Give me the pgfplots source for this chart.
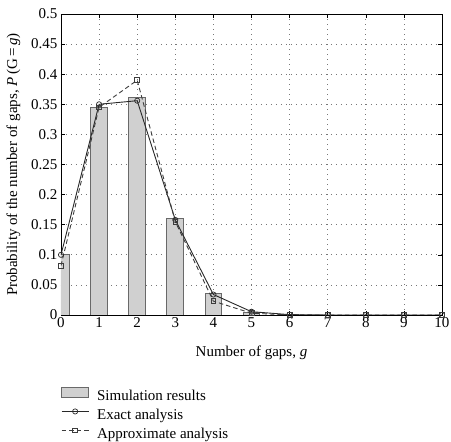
\documentclass[border=0pt]{standalone}
\usepackage{fontspec}
\setmainfont{Liberation Serif}
\usepackage{pgfplots}
\pgfplotsset{compat=1.18}
\usepackage{pgfplotstable}

\definecolor{barfill}{RGB}{208,208,208}
\definecolor{baredge}{RGB}{105,105,105}
\definecolor{linedark}{RGB}{40,40,40}
\definecolor{linedash}{RGB}{60,60,60}
\definecolor{gridgray}{RGB}{120,120,120}

\newcommand{\chartfont}{\fontsize{15}{17}\selectfont}

% legend symbols
\pgfplotsset{
  barlegend/.style={legend image code/.code={%
    \draw[fill=barfill, draw=baredge, line width=0.8pt] (0pt,-1pt) rectangle (27pt,9pt);}},
  linelegend/.style={legend image code/.code={%
    \draw[mark repeat=2, mark phase=2, ##1] plot coordinates {(0pt,4pt) (13.5pt,4pt) (27pt,4pt)};}},
}

% g, simulated probability
\pgfplotstableread{
g  p
0  0.100
1  0.344
2  0.361
3  0.160
4  0.035
5  0.004
6  0.0005
7  0
8  0
9  0
10 0
}\simdata

% g, exact analysis
\pgfplotstableread{
g  p
0  0.100
1  0.350
2  0.356
3  0.158
4  0.034
5  0.0055
6  0.0006
7  0
8  0
9  0
10 0
}\exactdata

% g, approximate analysis
\pgfplotstableread{
g  p
0  0.082
1  0.345
2  0.390
3  0.155
4  0.023
5  0.003
6  0.0002
7  0
8  0
9  0
10 0
}\approxdata

\begin{document}
\begin{tikzpicture}
% page frame around the axis box (0,0)--(381pt,301pt)
\useasboundingbox (-61pt,-127pt) rectangle (390pt,315pt);
\begin{axis}[
  at={(0,0)}, anchor=south west,
  scale only axis,
  width=381pt, height=301pt,
  xmin=0, xmax=10, ymin=0, ymax=0.5,
  xtick={0,1,...,10},
  ytick={0,0.05,0.1,0.15,0.2,0.25,0.3,0.35,0.4,0.45,0.5},
  yticklabels={0,0.05,0.1,0.15,0.2,0.25,0.3,0.35,0.4,0.45,0.5},
  /pgf/number format/assume math mode=true,
  tick align=inside,
  major tick length=4pt,
  tick style={black, line width=0.5pt},
  axis line style={black, line width=0.6pt},
  xmajorgrids, ymajorgrids,
  major grid style={gridgray, line width=0.6pt, dash pattern=on 0.8pt off 4.2pt},
  tick label style={font=\chartfont},
  xticklabel style={yshift=1pt},
  label style={font=\chartfont},
  xlabel={Number of gaps, \textit{g}},
  ylabel={Probability of the number of gaps, \textit{P}\,(G\,=\,\textit{g})},
  xlabel style={at={(axis description cs:0.5,-0.1385)}, anchor=base},
  ylabel style={at={(axis description cs:-0.125,0.5)}, anchor=center},
  legend style={
    font=\chartfont,
    at={(axis description cs:0,-0.239)}, anchor=north west,
    draw=none, fill=none, inner sep=0pt,
    row sep=3pt, column sep=6pt,
    cells={anchor=west},
  },
  legend cell align=left,
]
\addplot[
  ybar, bar width=0.44,
  fill=barfill, draw=baredge, line width=0.9pt,
  barlegend,
] table[x=g, y=p] {\simdata};
\addlegendentry{Simulation results}

\addplot[
  color=linedark, line width=0.9pt,
  mark=o, mark size=2.6pt, mark options={solid, fill=white, line width=0.7pt},
  linelegend,
] table[x=g, y=p] {\exactdata};
\addlegendentry{Exact analysis}

\addplot[
  color=linedash, line width=0.9pt, dash pattern=on 4.5pt off 3pt,
  mark=square, mark size=2.4pt, mark options={solid, fill=white, line width=0.7pt},
  linelegend,
] table[x=g, y=p] {\approxdata};
\addlegendentry{Approximate analysis}
\end{axis}
\end{tikzpicture}
\end{document}
